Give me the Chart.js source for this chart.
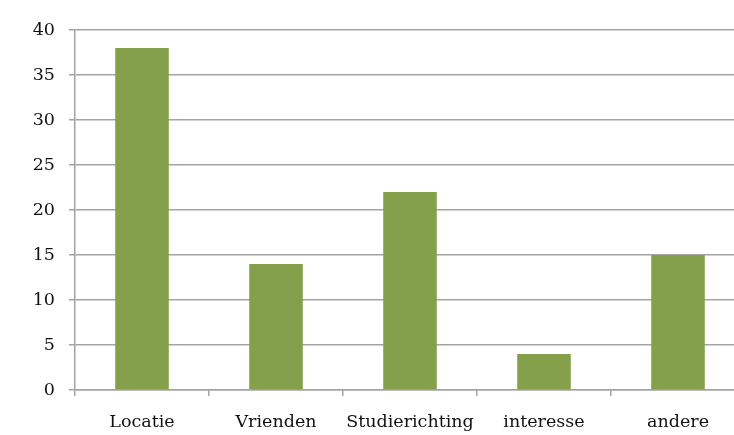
<!DOCTYPE html>
<html>
<head>
<meta charset="utf-8">
<script src="https://cdn.jsdelivr.net/npm/chart.js@4/dist/chart.umd.min.js"></script>
<style>
html,body{margin:0;padding:0;background:#fff;overflow:hidden;width:734px;height:435px;}
canvas{display:block;}
</style>
</head>
<body>
<canvas id="c" width="746" height="435"></canvas>
<script>
const categories = ["Locatie", "Vrienden", "Studierichting", "interesse", "andere"];
const values = [38, 14, 22, 4, 15];
const yTicks = [0, 5, 10, 15, 20, 25, 30, 35, 40];

const gridColor = '#a3a3a3';
new Chart(document.getElementById('c'), {
  type: 'bar',
  data: {
    labels: categories,
    datasets: [{
      data: values,
      backgroundColor: '#85a04a',
      borderWidth: 0,
      barPercentage: 0.4,
      categoryPercentage: 1.0
    }]
  },
  options: {
    responsive: false,
    animation: false,
    devicePixelRatio: 1,
    layout: { padding: { top: 30, right: 1, left: 0, bottom: 0 } },
    plugins: { legend: { display: false }, tooltip: { enabled: false } },
    scales: {
      x: {
        offset: true,
        grid: { offset: true, drawOnChartArea: false, drawTicks: true, tickLength: 6, color: gridColor, lineWidth: 1.5 },
        border: { color: gridColor, width: 1.5 },
        ticks: { color: '#111', font: { family: 'DejaVu Serif', size: 17.5 }, padding: 16, maxRotation: 0, autoSkip: false },
        afterFit: (s) => { s.height = 435 - 390; }
      },
      y: {
        min: 0, max: 40,
        afterBuildTicks: (s) => { s.ticks = yTicks.map(v => ({ value: v })); },
        grid: { color: gridColor, lineWidth: 1.5, tickLength: 6, drawTicks: true },
        border: { color: gridColor, width: 1.5 },
        ticks: { color: '#111', font: { family: 'DejaVu Serif', size: 17.5 }, padding: 14 },
        afterFit: (s) => { s.width = 75; }
      }
    }
  }
});
</script>
</body>
</html>
